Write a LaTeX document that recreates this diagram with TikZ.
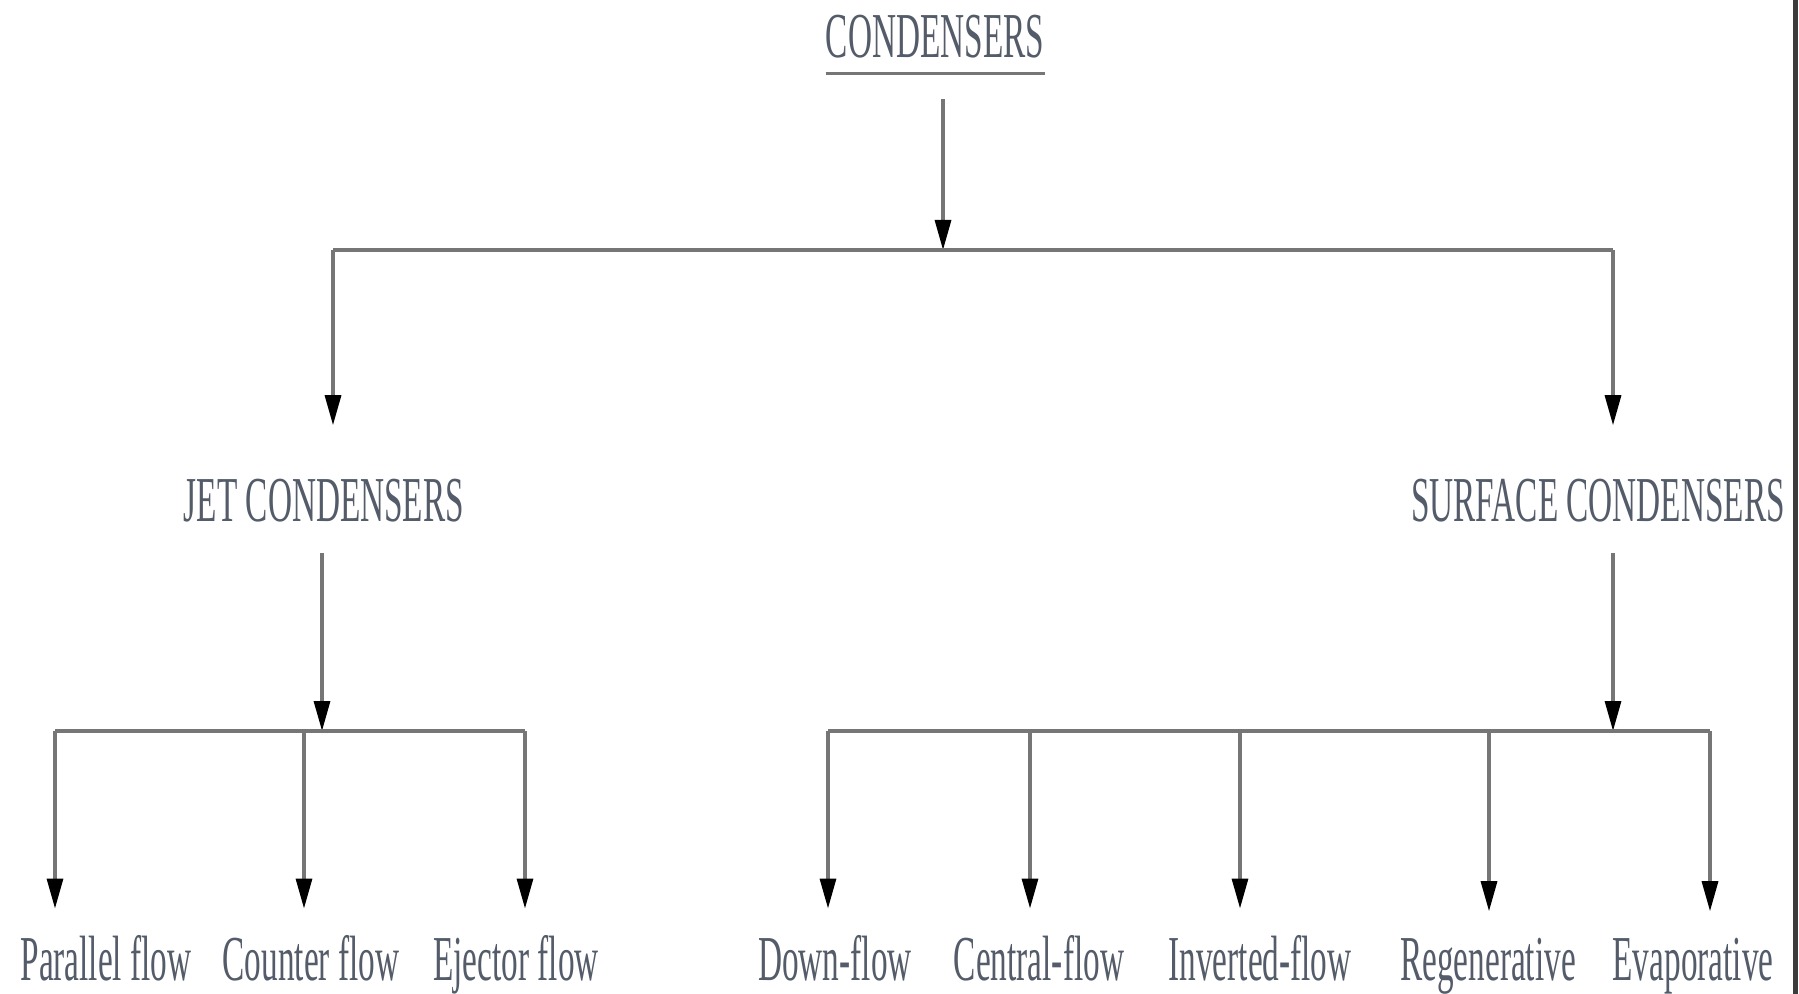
\documentclass[tikz,border=0pt]{standalone}
\usepackage{fontspec}
\setmainfont{Liberation Serif}[FakeStretch=0.52]
\usetikzlibrary{arrows.meta}
\usetikzlibrary{positioning}
\definecolor{linegray}{RGB}{118,118,118}
\definecolor{textgray}{RGB}{84,92,106}
\definecolor{edgegray}{RGB}{60,60,60}

\begin{document}
\begin{tikzpicture}[x=0.5pt, y=-0.5pt,
    lbl/.style={inner sep=0pt, anchor=base, text=textgray, font=\fontsize{32}{38}\selectfont},
    br/.style={draw=linegray, line width=1.6pt},
    arr/.style={br, -{Triangle[length=15pt,width=8pt,color=black]}}]
      \useasboundingbox[fill=white] (0,0) rectangle (1799,994);
      \draw[edgegray, line width=2.5pt] (1795,0) -- (1795,994);

      % labels
      \node[lbl] (cond)  at (935,58)   {CONDENSERS};
      \node[lbl] (jet)   at (324,522)  {JET CONDENSERS};
      \node[lbl] (surf)  at (1598,522) {SURFACE CONDENSERS};
      \node[lbl] (par)   at (106,980)  {Parallel flow};
      \node[lbl] (cnt)   at (311,980)  {Counter flow};
      \node[lbl] (ejc)   at (516,980)  {Ejector flow};
      \node[lbl] (down)  at (835,980)  {Down-flow};
      \node[lbl] (cent)  at (1039,980) {Central-flow};
      \node[lbl] (inv)   at (1260,980) {Inverted-flow};
      \node[lbl] (regen) at (1488,980) {Regenerative};
      \node[lbl] (evap)  at (1693,980) {Evaporative};

      % junctions
      \coordinate (top)  at (943,250);
      \coordinate (topl) at (333,250);
      \coordinate (topr) at (1613,250);
      \coordinate (jetj) at (322,731);
      \coordinate (jl)   at (55,731);
      \coordinate (jm)   at (304,731);
      \coordinate (jr)   at (525,731);
      \coordinate (surj) at (1613,731);
      \coordinate (s1)   at (828,731);
      \coordinate (s2)   at (1030,731);
      \coordinate (s3)   at (1240,731);
      \coordinate (s4)   at (1489,731);
      \coordinate (s5)   at (1710,731);

      \draw[br, line width=1.5pt] ([yshift=-8pt]cond.base west) -- ([yshift=-8pt]cond.base east);

      \draw[arr, shorten <=20pt] (cond.south -| top) -- (top);
      \draw[br] (topl) -- (topr);
      \draw[arr, shorten >=27pt] (topl) -- (topl |- jet.north);
      \draw[arr, shorten >=27pt] (topr) -- (topr |- surf.north);

      \draw[arr, shorten <=15pt] (jet.south -| jetj) -- (jetj);
      \draw[br] (jl) -- (jr);
      \draw[arr, shorten >=13pt] (jl) -- (jl |- par.north);
      \draw[arr, shorten >=13pt] (jm) -- (jm |- cnt.north);
      \draw[arr, shorten >=13pt] (jr) -- (jr |- ejc.north);

      \draw[arr, shorten <=15pt] (surf.south -| surj) -- (surj);
      \draw[br] (s1) -- (s5);
      \draw[arr, shorten >=13pt] (s1) -- (s1 |- down.north);
      \draw[arr, shorten >=13pt] (s2) -- (s2 |- cent.north);
      \draw[arr, shorten >=13pt] (s3) -- (s3 |- inv.north);
      \draw[arr, shorten >=13pt] (s4) -- (s4 |- regen.north);
      \draw[arr, shorten >=13pt] (s5) -- (s5 |- evap.north);
\end{tikzpicture}
\end{document}
